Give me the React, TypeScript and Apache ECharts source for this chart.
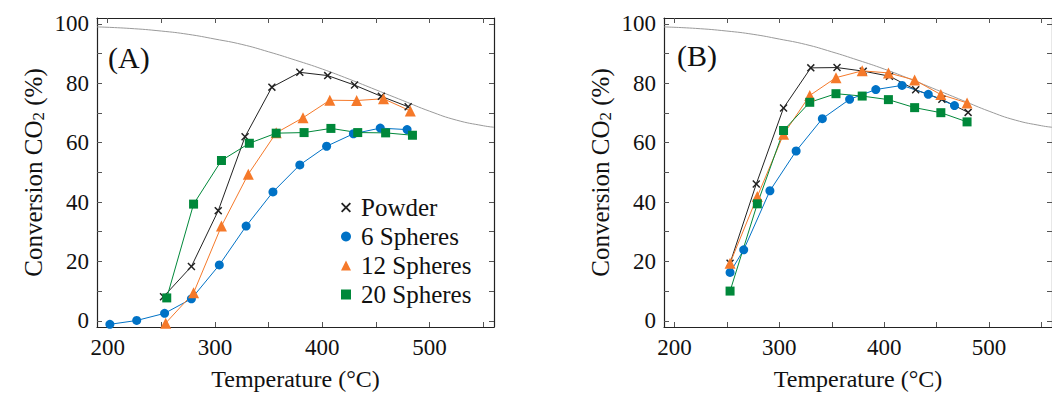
import React, { useEffect, useRef } from "react";
import * as echarts from "echarts";

// Equilibrium conversion curve
const eqT = [190, 220, 250, 275, 300, 325, 350, 375, 400, 425, 450, 475, 500, 525, 550, 560];
const eqY = [99.0, 98.5, 97.6, 96.5, 94.9, 93.1, 90.6, 87.8, 84.8, 81.4, 77.8, 74.2, 70.6, 67.6, 65.7, 65.2];

// Panel A
const powderAT = [252, 278, 303, 328, 353, 379, 405, 430, 455, 480];
const powderAY = [8.1, 18.3, 37.1, 62.0, 78.7, 83.7, 82.6, 79.4, 75.6, 72.1];
const six_AT = [202, 227, 253, 278, 304, 329, 354, 379, 404, 429, 454, 479];
const six_AY = [-1.2, 0.1, 2.5, 7.4, 18.8, 31.9, 43.4, 52.5, 58.8, 63.0, 64.9, 64.4];
const twelveAT = [254, 280, 306, 331, 357, 382, 407, 432, 457, 482];
const twelveAY = [-0.8, 9.4, 31.9, 49.4, 63.3, 68.4, 74.3, 74.2, 74.8, 70.7];
const twentyAT = [255, 280, 306, 332, 357, 383, 408, 433, 459, 484];
const twentyAY = [7.7, 39.3, 54.0, 59.8, 63.2, 63.4, 64.8, 63.4, 63.3, 62.5];

// Panel B
const powderBT = [253, 278, 304, 330, 355, 380, 405, 430, 455, 480];
const powderBY = [19.4, 46.1, 71.7, 85.2, 85.3, 84.1, 82.4, 77.8, 74.6, 70.2];
const six_BT = [253, 266, 291, 316, 341, 367, 392, 417, 442, 467];
const six_BY = [16.3, 23.9, 43.8, 57.2, 68.1, 74.6, 77.9, 79.3, 76.3, 72.5];
const twelveBT = [253, 279, 304, 329, 354, 379, 404, 429, 454, 479];
const twelveBY = [19.4, 41.9, 62.8, 75.9, 81.9, 84.2, 83.5, 81.1, 76.2, 73.4];
const twentyBT = [253, 279, 304, 329, 354, 379, 404, 429, 454, 479];
const twentyBY = [10.0, 39.4, 64.1, 73.6, 76.5, 75.7, 74.5, 71.8, 70.1, 67.0];

const xTicks = [200, 250, 300, 350, 400, 450, 500, 550];
const xLabels = [200, 300, 400, 500];
const yTicks = [0, 10, 20, 30, 40, 50, 60, 70, 80, 90, 100];
const yLabels = [0, 20, 40, 60, 80, 100];

const seriesNames = ["Powder", "6 Spheres", "12 Spheres", "20 Spheres"];

const FONT = "Liberation Serif";
const C_POWDER = "#222222";
const C_BLUE = "#0072C6";
const C_ORANGE = "#F5792A";
const C_GREEN = "#00883A";
const crossPath =
  "path://M0,1.3L1.3,0L5,3.7L8.7,0L10,1.3L6.3,5L10,8.7L8.7,10L5,6.3L1.3,10L0,8.7L3.7,5Z";

const zip = (a: number[], b: number[]) => a.map((v, i) => [v, b[i]]);

export default function App() {
  const ref = useRef<HTMLDivElement>(null);
  useEffect(() => {
    if (!ref.current) return;
    const chart = echarts.init(ref.current, undefined, { renderer: "svg" });

    const lineStyle = { color: "#222", width: 1.2 };
    const tick = { show: true, inside: true, length: 5, customValues: xTicks, lineStyle: { color: "#555", width: 1 } };
    const ytick = { show: true, inside: true, length: 5, customValues: yTicks, lineStyle: { color: "#555", width: 1 } };

    const xAxes: any[] = [];
    const yAxes: any[] = [];
    [0, 1].forEach((g) => {
      xAxes.push({
        type: "value", gridIndex: g, min: 190, max: 560, position: "bottom",
        axisLine: { show: true, onZero: false, lineStyle },
        axisTick: tick,
        splitLine: { show: false },
        axisLabel: { customValues: xLabels, fontFamily: FONT, fontSize: 23, color: "#111", margin: 9 },
        name: "Temperature (°C)", nameLocation: "middle", nameGap: 40,
        nameTextStyle: { fontFamily: FONT, fontSize: 24, color: "#111" },
      });
      xAxes.push({
        type: "value", gridIndex: g, min: 190, max: 560, position: "top",
        axisLine: { show: true, onZero: false, lineStyle },
        axisTick: tick, splitLine: { show: false }, axisLabel: { show: false },
      });
      yAxes.push({
        type: "value", gridIndex: g, min: -2.1, max: 102, position: "left",
        axisLine: { show: true, onZero: false, lineStyle },
        axisTick: ytick, splitLine: { show: false },
        axisLabel: { customValues: yLabels, fontFamily: FONT, fontSize: 23, color: "#111", margin: 8 },
        name: "Conversion CO{sub|2} (%)", nameLocation: "middle", nameGap: 50,
        nameTextStyle: {
          fontFamily: FONT, fontSize: 25, color: "#111",
          rich: { sub: { fontFamily: FONT, fontSize: 17, color: "#111", verticalAlign: "bottom", padding: [10, 0, 0, 0] } },
        },
      });
      yAxes.push({
        type: "value", gridIndex: g, min: -2.1, max: 102, position: "right",
        axisLine: { show: true, onZero: false, lineStyle },
        axisTick: ytick, splitLine: { show: false }, axisLabel: { show: false },
      });
    });

    const mk = (name: string, T: number[], Y: number[], color: string, symbol: string, size: number, g: number) => ({
      type: "line", name, xAxisIndex: g * 2, yAxisIndex: g * 2,
      data: zip(T, Y), symbol, symbolSize: size, showSymbol: true,
      lineStyle: { color, width: 1 }, itemStyle: { color }, z: 3,
    });
    const eq = (g: number) => ({
      type: "line", name: "eq", xAxisIndex: g * 2, yAxisIndex: g * 2,
      data: zip(eqT, eqY), smooth: true, showSymbol: false, symbol: "none",
      lineStyle: { color: "#9a9a9a", width: 1 }, z: 2,
    });

    const series: any[] = [eq(0), eq(1)];
    [
      [powderAT, powderAY, six_AT, six_AY, twelveAT, twelveAY, twentyAT, twentyAY],
      [powderBT, powderBY, six_BT, six_BY, twelveBT, twelveBY, twentyBT, twentyBY],
    ].forEach((d, g) => {
      series.push(mk(seriesNames[0], d[0], d[1], C_POWDER, crossPath, 8, g));
      series.push(mk(seriesNames[1], d[2], d[3], C_BLUE, "circle", 9, g));
      series.push(mk(seriesNames[2], d[4], d[5], C_ORANGE, "triangle", 11, g));
      series.push(mk(seriesNames[3], d[6], d[7], C_GREEN, "rect", 9, g));
    });

    chart.setOption({
      animation: false,
      backgroundColor: "#ffffff",
      textStyle: { fontFamily: FONT },
      grid: [
        { left: 97, top: 18, width: 397, height: 313 },
        { left: 664, top: 18, width: 399, height: 313 },
      ],
      xAxis: xAxes,
      yAxis: yAxes,
      legend: {
        left: 336, top: 190, orient: "vertical",
        itemWidth: 10, itemHeight: 10, itemGap: 4,
        textStyle: { fontFamily: FONT, fontSize: 25, lineHeight: 22, color: "#111", padding: [0, 0, 0, 5] },
        data: [
          { name: seriesNames[0], icon: crossPath },
          { name: seriesNames[1], icon: "circle" },
          { name: seriesNames[2], icon: "triangle" },
          { name: seriesNames[3], icon: "rect" },
        ],
      },
      graphic: [
        { type: "text", left: 108, top: 42, style: { text: "(A)", fontFamily: FONT, fontSize: 30, fill: "#111" } },
        { type: "text", left: 677, top: 40, style: { text: "(B)", fontFamily: FONT, fontSize: 30, fill: "#111" } },
      ],
      series,
    });
    return () => chart.dispose();
  }, []);
  return <div ref={ref} style={{ position: "absolute", left: 0, top: 0, width: 1052, height: 396 }} />;
}
